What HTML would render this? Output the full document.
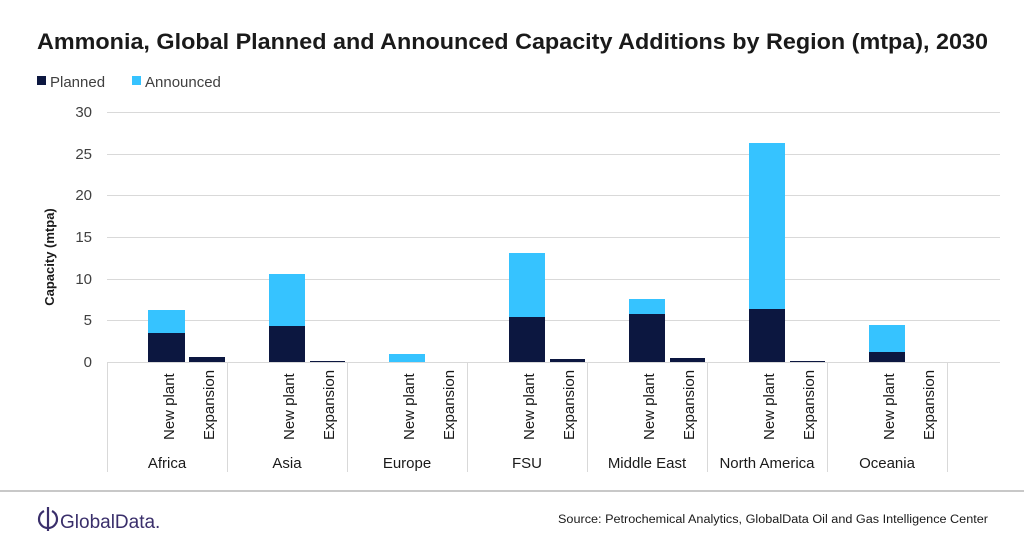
<!DOCTYPE html>
<html><head><meta charset="utf-8"><style>
body{margin:0;background:#fff;}
svg{display:block;font-family:"Liberation Sans",sans-serif;}
</style></head><body>
<svg width="1024" height="549" viewBox="0 0 1024 549">
<text x="37" y="49" font-size="22" font-weight="bold" fill="#1a1a1a" textLength="951" lengthAdjust="spacingAndGlyphs">Ammonia, Global Planned and Announced Capacity Additions by Region (mtpa), 2030</text>
<rect x="37" y="76" width="9" height="9" fill="#0c1740"/>
<text x="50" y="87" font-size="15" fill="#404040">Planned</text>
<rect x="132" y="76" width="9" height="9" fill="#36c3ff"/>
<text x="145" y="87" font-size="15" fill="#404040">Announced</text>
<g stroke="#d9d9d9" stroke-width="1">
<line x1="107" y1="112.5" x2="1000" y2="112.5"/>
<line x1="107" y1="154.5" x2="1000" y2="154.5"/>
<line x1="107" y1="195.5" x2="1000" y2="195.5"/>
<line x1="107" y1="237.5" x2="1000" y2="237.5"/>
<line x1="107" y1="279.5" x2="1000" y2="279.5"/>
<line x1="107" y1="320.5" x2="1000" y2="320.5"/>
<line x1="107" y1="362.5" x2="1000" y2="362.5"/>
<line x1="107.5" y1="362" x2="107.5" y2="472"/>
<line x1="227.5" y1="362" x2="227.5" y2="472"/>
<line x1="347.5" y1="362" x2="347.5" y2="472"/>
<line x1="467.5" y1="362" x2="467.5" y2="472"/>
<line x1="587.5" y1="362" x2="587.5" y2="472"/>
<line x1="707.5" y1="362" x2="707.5" y2="472"/>
<line x1="827.5" y1="362" x2="827.5" y2="472"/>
<line x1="947.5" y1="362" x2="947.5" y2="472"/>
</g>
<g font-size="15" fill="#404040" text-anchor="end">
<text x="92" y="117">30</text><text x="92" y="159">25</text><text x="92" y="200">20</text>
<text x="92" y="242">15</text><text x="92" y="284">10</text><text x="92" y="325">5</text><text x="92" y="367">0</text>
</g>
<text transform="translate(54,257) rotate(-90)" text-anchor="middle" font-size="13" font-weight="bold" fill="#1a1a1a">Capacity (mtpa)</text>
<g>
<rect x="148" y="310" width="37" height="23" fill="#36c3ff"/><rect x="148" y="333" width="37" height="29" fill="#0c1740"/>
<rect x="189" y="357" width="36" height="5" fill="#0c1740"/>
<rect x="269" y="274" width="36" height="52" fill="#36c3ff"/><rect x="269" y="326" width="36" height="36" fill="#0c1740"/>
<rect x="310" y="361" width="35" height="1" fill="#0c1740"/>
<rect x="389" y="354" width="36" height="8" fill="#36c3ff"/>
<rect x="509" y="253" width="36" height="64" fill="#36c3ff"/><rect x="509" y="317" width="36" height="45" fill="#0c1740"/>
<rect x="550" y="359" width="35" height="3" fill="#0c1740"/>
<rect x="629" y="299" width="36" height="15" fill="#36c3ff"/><rect x="629" y="314" width="36" height="48" fill="#0c1740"/>
<rect x="670" y="358" width="35" height="4" fill="#0c1740"/>
<rect x="749" y="143" width="36" height="166" fill="#36c3ff"/><rect x="749" y="309" width="36" height="53" fill="#0c1740"/>
<rect x="790" y="361" width="35" height="1" fill="#0c1740"/>
<rect x="869" y="325" width="36" height="27" fill="#36c3ff"/><rect x="869" y="352" width="36" height="10" fill="#0c1740"/>
</g>
<g font-size="15" fill="#1a1a1a">
<text transform="translate(174,440) rotate(-90)">New plant</text><text transform="translate(214,440) rotate(-90)">Expansion</text>
<text transform="translate(294,440) rotate(-90)">New plant</text><text transform="translate(334,440) rotate(-90)">Expansion</text>
<text transform="translate(414,440) rotate(-90)">New plant</text><text transform="translate(454,440) rotate(-90)">Expansion</text>
<text transform="translate(534,440) rotate(-90)">New plant</text><text transform="translate(574,440) rotate(-90)">Expansion</text>
<text transform="translate(654,440) rotate(-90)">New plant</text><text transform="translate(694,440) rotate(-90)">Expansion</text>
<text transform="translate(774,440) rotate(-90)">New plant</text><text transform="translate(814,440) rotate(-90)">Expansion</text>
<text transform="translate(894,440) rotate(-90)">New plant</text><text transform="translate(934,440) rotate(-90)">Expansion</text>
</g>
<g font-size="15" fill="#1a1a1a" text-anchor="middle">
<text x="167" y="468">Africa</text><text x="287" y="468">Asia</text><text x="407" y="468">Europe</text>
<text x="527" y="468">FSU</text><text x="647" y="468">Middle East</text><text x="767" y="468">North America</text><text x="887" y="468">Oceania</text>
</g>
<line x1="0" y1="491" x2="1024" y2="491" stroke="#c8c8c8" stroke-width="2"/>
<g stroke="#3a2f6b" stroke-width="2.2" fill="none">
<path d="M44 511 A9 9 0 1 0 52 511"/><line x1="48" y1="507" x2="48" y2="531"/>
</g>
<text x="60" y="528" font-size="19" fill="#3a2f6b">GlobalData.</text>
<text x="988" y="523" text-anchor="end" font-size="11.5" fill="#1a1a1a" textLength="430" lengthAdjust="spacingAndGlyphs">Source: Petrochemical  Analytics, GlobalData Oil and Gas Intelligence Center</text>
</svg>
</body></html>
